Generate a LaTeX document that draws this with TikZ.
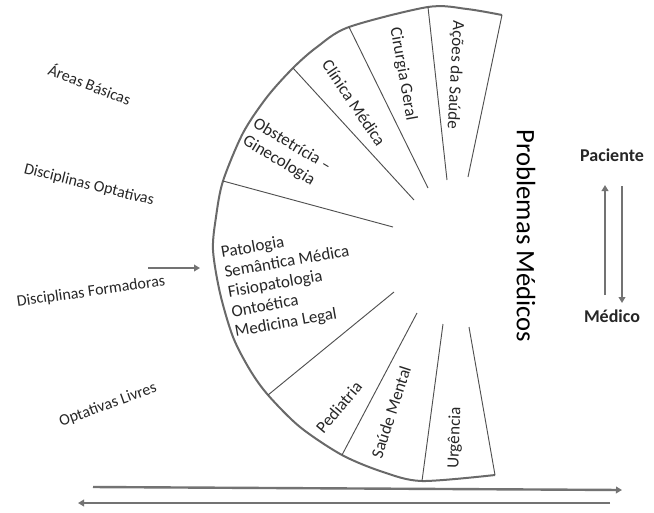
\documentclass[tikz,border=0pt]{standalone}
\usepackage{fontspec}
\setmainfont{Carlito}
\usetikzlibrary{arrows.meta}
\definecolor{rimgray}{RGB}{105,105,105}
\definecolor{spokegray}{RGB}{80,80,80}
\definecolor{arrgray}{RGB}{115,115,115}
\tikzset{
  rim/.style = {draw=rimgray, line width=1.5pt},
  spoke/.style = {draw=spokegray, line width=0.7pt},
  seg/.style = {inner sep=0pt, font=\fontsize{12.75}{15}\selectfont, text=black!85, align=left},
  side/.style = {inner sep=0pt, font=\fontsize{12}{14}\selectfont, text=black!85},
  role/.style = {inner sep=0pt, font=\fontsize{13.5}{16}\selectfont\bfseries, text=black!85},
  arr/.style = {draw=arrgray, line width=1.8pt, -{Triangle[length=4.5pt,width=5pt]}}
}
\begin{document}
\begin{tikzpicture}[x=0.75pt,y=-0.75pt]
  \useasboundingbox (0,0) rectangle (654,512);
  % rim of the fan
  \draw[rim] plot[smooth] coordinates {(502,15) (467,9) (428,7) (349,27) (317,47) (293,68) (267,97) (243,133) (223,181) (216,217) (213,250) (220,293) (233,337) (250,370) (268,395) (300,427) (342,455) (383,472) (422,481) (495,475)};
  % spokes
  \foreach \n/\ox/\oy/\ix/\iy in {1/502/15/468/177, 2/428/7/447/180, 3/349/27/428/188, 4/293/68/414/200, 5/223/181/393/227, 6/268/395/394/292, 7/342/455/417/313, 8/422/481/443/324, 9/495/475/469/327}{
    \coordinate (o\n) at (\ox,\oy);
    \coordinate (i\n) at (\ix,\iy);
    \draw[spoke] (o\n) -- (i\n);
  }
  % sectors
  \node[seg, rotate=-93] (acoes) at (455,75) {Ações da Saúde};
  \node[seg, rotate=-80] (cirurgia) at (403,74) {Cirurgia Geral};
  \node[seg, rotate=-56] (clinica) at (354,103) {Clínica Médica};
  \node[seg, rotate=-31, anchor=west] (obstetricia) at (249,131) {Obstetrícia –\\Ginecologia};
  \node[seg, rotate=10, anchor=west] (formadoras) at (228,293) {Patologia\\Semântica Médica\\Fisiopatologia\\Ontoética\\Medicina Legal};
  \node[seg, rotate=50] (pediatria) at (339,407) {Pediatria};
  \node[seg, rotate=72] (mental) at (391,412) {Saúde Mental};
  \node[seg, rotate=88] (urgencia) at (455,438) {Urgência};
  % left side
  \node[side, rotate=-21] (basicas) at (90,84) {Áreas Básicas};
  \node[side, rotate=-14] (optativas) at (89,185) {Disciplinas Optativas};
  \node[side, rotate=8] (discform) at (91,292) {Disciplinas Formadoras};
  \node[side, rotate=20] (livres) at (108,405) {Optativas Livres};
  \coordinate (f0) at (148,268);
  \coordinate (f1) at (200,268);
  \draw[arr] (f0) -- (f1);
  % right side
  \node[inner sep=0pt, font=\fontsize{20}{24}\selectfont, rotate=-90] (problemas) at (526,236) {Problemas Médicos};
  \node[role] (paciente) at (612,155) {Paciente};
  \node[role] (medico) at (612,316) {Médico};
  \coordinate (u0) at (605,295);
  \coordinate (u1) at (605,185);
  \coordinate (d0) at (622,186);
  \coordinate (d1) at (622,303);
  \draw[arr] (u0) -- (u1);
  \draw[arr] (d0) -- (d1);
  % bottom
  \coordinate (b0) at (93,487);
  \coordinate (b1) at (622,490);
  \coordinate (b2) at (610,503);
  \coordinate (b3) at (78,503);
  \draw[arr] (b0) -- (b1);
  \draw[arr] (b2) -- (b3);
\end{tikzpicture}
\end{document}
